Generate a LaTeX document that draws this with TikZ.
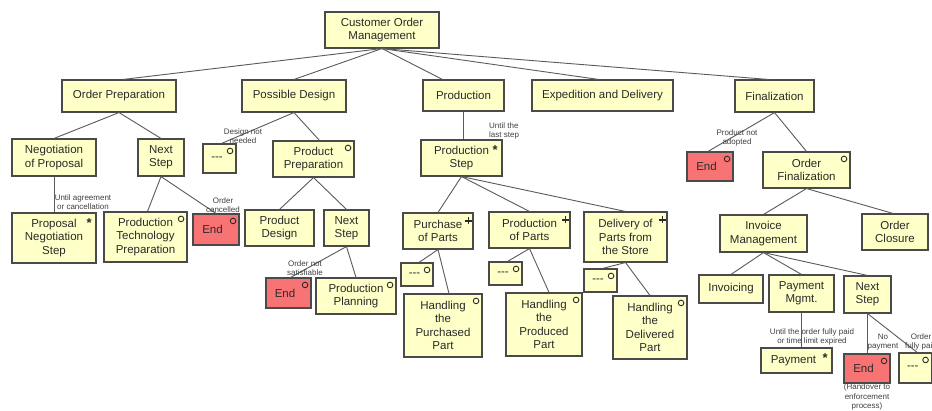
\documentclass[tikz,border=0pt]{standalone}
\usepackage{fontspec}
\setmainfont{Liberation Sans}
\definecolor{boxfill}{HTML}{FFFFC8}
\definecolor{endfill}{HTML}{F87474}
\definecolor{boxline}{HTML}{4A4A4A}
\definecolor{boxtext}{HTML}{2A2A2A}
\definecolor{linkgray}{HTML}{5A5A5A}
\definecolor{lblgray}{HTML}{404040}
\newcommand\boxfont{\fontsize{11.5}{13.4}\selectfont}
\newcommand\lblfont{\fontsize{8}{9.4}\selectfont}
\tikzset{
  x=1pt, y=-1pt,
  box/.style={draw=boxline, line width=1.1pt, fill=boxfill, inner sep=0pt,
              align=center, font=\boxfont, text=boxtext},
  endbox/.style={box, fill=endfill},
  link/.style={draw=linkgray, line width=0.9pt},
  lbl/.style={font=\lblfont, text=lblgray, align=center, inner sep=0pt},
  markline/.style={draw=boxtext, line width=0.9pt},
}
% box given by its corners (x1,y1) and (x2,y2), y measured downwards
\newcommand\jbox[7][]{%
  \node[box,#1,minimum width={#5-#3},minimum height={#6-#4}]
    (#2) at ({(#3+#5)/2},{(#4+#6)/2}) {#7};}
% markers in the upper right corner of a box
\newcommand\omark[1]{\draw[markline] ([xshift=-6.5pt,yshift=-7.5pt]#1.north east) circle[radius=2.8pt];}
\newcommand\pmark[1]{%
  \draw[markline,line width=1.4pt] ([xshift=-8.5pt,yshift=-8.5pt]#1.north east) -- ++(7,0);
  \draw[markline,line width=1.4pt] ([xshift=-5pt,yshift=-5pt]#1.north east) -- ++(0,7);}
\newcommand\smark[1]{\node[inner sep=0pt,text=boxtext,font=\fontsize{13}{13}\selectfont\bfseries]
  at ([xshift=-7.5pt,yshift=-11pt]#1.north east) {*};}
\newcommand\dash{-{}-{}-}
\begin{document}
\begin{tikzpicture}
\fill[white] (0,0) rectangle (932,410);
\useasboundingbox (0,0) rectangle (932,410);

% top levels
\jbox{root}{325}{12}{439}{48}{Customer Order\\Management}
\jbox{op}{62}{80}{176}{112}{Order Preparation}
\jbox{pd}{242}{80}{346}{112}{Possible Design}
\jbox{pr}{423}{80}{504}{111}{Production}
\jbox{ed}{532}{80}{673}{111}{Expedition and Delivery}
\jbox{fi}{735}{80}{814}{112}{Finalization}

% order preparation
\jbox{neg}{12}{139}{96}{176}{Negotiation\\of Proposal}
\jbox{nsa}{138}{139}{184}{176}{Next\\Step}
\jbox{pns}{12}{213}{96}{263}{Proposal\\Negotiation\\Step}
\jbox{ptp}{104}{212}{187}{262}{Production\\Technology\\Preparation}
\jbox[endbox]{enda}{193}{214}{239}{245}{End\hspace*{7pt}}

% possible design
\jbox{da}{203}{144}{236}{173}{\dash\hspace*{5pt}}
\jbox{pp}{273}{141}{354}{177}{Product\\Preparation}
\jbox{pdz}{245}{210}{314}{246}{Product\\Design}
\jbox{nsb}{324}{210}{369}{246}{Next\\Step}
\jbox[endbox]{endb}{266}{278}{311}{308}{End\hspace*{7pt}}
\jbox{ppl}{316}{278}{396}{314}{Production\\Planning}

% production
\jbox{ps}{421}{140}{502}{176}{Production\\Step}
\jbox{pop}{403}{213}{473}{249}{Purchase\\of Parts}
\jbox{prp}{489}{212}{570}{248}{Production\\of Parts}
\jbox{dps}{584}{212}{667}{262}{Delivery of\\Parts from\\the Store}
\jbox{db}{401}{263}{433}{286}{\dash\hspace*{5pt}}
\jbox{hpu}{404}{294}{482}{357}{Handling\\the\\Purchased\\Part}
\jbox{dc}{489}{262}{522}{285}{\dash\hspace*{5pt}}
\jbox{hpr}{506}{293}{582}{356}{Handling\\the\\Produced\\Part}
\jbox{dd}{584}{269}{617}{292}{\dash\hspace*{5pt}}
\jbox{hde}{613}{296}{687}{359}{Handling\\the\\Delivered\\Part}

% finalization
\jbox[endbox]{endc}{687}{152}{733}{181}{End\hspace*{7pt}}
\jbox{of}{763}{152}{850}{188}{Order\\Finalization}
\jbox{im}{720}{215}{807}{252}{Invoice\\Management}
\jbox{oc}{862}{214}{928}{250}{Order\\Closure}
\jbox{inv}{699}{275}{763}{303}{Invoicing}
\jbox{pm}{769}{275}{834}{312}{Payment\\Mgmt.}
\jbox{nsc}{844}{276}{891}{313}{Next\\Step}
\jbox{pay}{761}{348}{832}{373}{Payment\hspace*{6pt}}
\jbox[endbox]{endd}{844}{354}{890}{383}{End\hspace*{7pt}}
\jbox{de}{899}{353}{931.5}{383}{\dash\hspace*{5pt}}

% markers
\foreach \b in {da,ptp,enda,pp,endb,ppl,db,hpu,dc,hpr,dd,hde,endc,of,endd,de} {\omark{\b}}
\foreach \b in {pop,prp,dps} {\pmark{\b}}
\foreach \b in {pns,ps,pay} {\smark{\b}}

% connectors
\draw[link] (root.south) -- ([xshift=4pt]op.north);
\draw[link] (root.south) -- (pd.north);
\draw[link] (root.south) -- ([xshift=-21pt]pr.north);
\draw[link] (root.south) -- ([xshift=-4pt]ed.north);
\draw[link] (root.south) -- ([xshift=-6pt]fi.north);

\draw[link] (op.south) -- (neg.north);
\draw[link] (op.south) -- (nsa.north);
\draw[link] (neg.south) -- (pns.north);
\draw[link] (nsa.south) -- ([xshift=2pt]ptp.north);
\draw[link] (nsa.south) -- (enda.north);

\draw[link] (pd.south) -- ([xshift=2pt]da.north);
\draw[link] (pd.south) -- ([xshift=6pt]pp.north);
\draw[link] (pp.south) -- (pdz.north);
\draw[link] (pp.south) -- (nsb.north);
\draw[link] (nsb.south) -- ([xshift=2pt]endb.north);
\draw[link] (nsb.south) -- (ppl.north);

\draw[link] (pr.south) -- (pr.south |- ps.north);
\draw[link] (ps.south) -- (pop.north);
\draw[link] (ps.south) -- (prp.north);
\draw[link] (ps.south) -- (dps.north);
\draw[link] (pop.south) -- ([xshift=2pt]db.north);
\draw[link] (pop.south) -- ([xshift=6pt]hpu.north);
\draw[link] (prp.south) -- ([xshift=2pt]dc.north);
\draw[link] (prp.south) -- ([xshift=5pt]hpr.north);
\draw[link] (dps.south) -- ([xshift=2pt]dd.north);
\draw[link] (dps.south) -- (hde.north);

\draw[link] (fi.south) -- ([xshift=-2pt]endc.north);
\draw[link] (fi.south) -- (of.north);
\draw[link] (of.south) -- (im.north);
\draw[link] (of.south) -- ([xshift=-2pt]oc.north);
\draw[link] (im.south) -- (inv.north);
\draw[link] (im.south) -- (pm.north);
\draw[link] (im.south) -- (nsc.north);
\draw[link] (pm.south) -- (pm.south |- pay.north);
\draw[link] (nsc.south) -- (nsc.south |- endd.north);
\draw[link] (nsc.south) -- ([xshift=2pt]de.north);

% condition labels
\node[lbl] (la) at (83,202) {Until agreement\\or cancellation};
\node[lbl] (lb) at (223,205) {Order\\cancelled};
\node[lbl] (lc) at (243,136) {Design not\\needed};
\node[lbl] (ld) at (305,268) {Order not\\satisfiable};
\node[lbl,align=left,anchor=west] (le) at (489,131) {Until the\\last step};
\node[lbl] (lf) at (737,138) {Product not\\adopted};
\node[lbl] (lg) at (812,337) {Until the order fully paid\\or time limit expired};
\node[lbl] (lh) at (883,342) {No\\payment};
\node[lbl] (li) at (921,342) {Order\\fully paid};
\node[lbl] (lj) at (867,397) {(Handover to\\enforcement\\process)};
\end{tikzpicture}
\end{document}
